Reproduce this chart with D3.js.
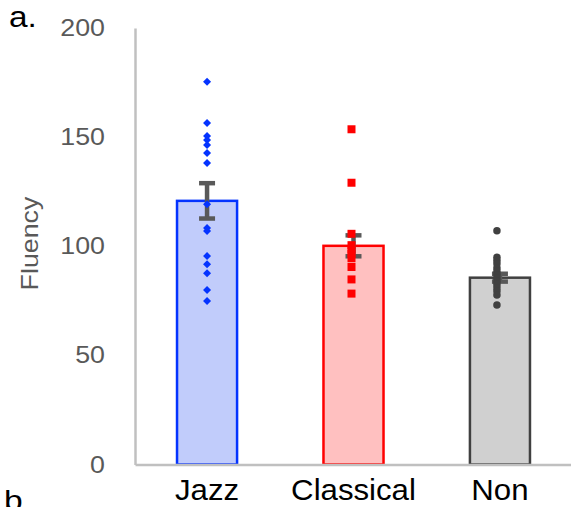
<!DOCTYPE html>
<html>
<head>
<meta charset="utf-8">
<script src="https://cdn.jsdelivr.net/npm/d3@7"></script>
<style>
  body { margin: 0; background: #fff; }
  svg { display: block; font-family: "Liberation Sans", Arial, Helvetica, sans-serif; }
</style>
</head>
<body>
<script>
// group means (bar heights) and standard errors
const categories = ["Jazz", "Classical", "Non"];
const means = [120.8, 100.2, 85.6];
const sems = [8.1, 4.8, 1.8];

// individual scores per group
const jazzScores = [175.4, 156.5, 150.5, 148.7, 146.4, 142.7, 138.1, 119.3, 108.4, 107.0, 95.5, 91.8, 87.6, 79.9, 74.9];
const classicalScores = [153.6, 129.1, 105.7, 100.5, 98.5, 96.5, 94.5, 90.5, 84.8, 78.3];
const nonScores = [107.1, 95, 93.5, 92, 90, 88.5, 87, 85.5, 84, 82.5, 81, 79.5, 77.7, 73.1];

const yTicks = [0, 50, 100, 150, 200];

const width = 571;
const height = 507;

const look = {
  Jazz: { fill: "#c1ccfb", stroke: "#0433ff", dot: "#0433ff", shape: "diamond", dx: 0 },
  Classical: { fill: "#ffc0c0", stroke: "#ff0000", dot: "#ff0000", shape: "square", dx: -2 },
  Non: { fill: "#d0d0d0", stroke: "#404040", dot: "#404040", shape: "circle", dx: -3 },
};

const scores = { Jazz: jazzScores, Classical: classicalScores, Non: nonScores };

const svg = d3.select("body").append("svg")
  .attr("width", width)
  .attr("height", height);

const y = d3.scaleLinear().domain([0, 200]).range([464.5, 28]);

const x = d3.scaleBand()
  .domain(categories)
  .range([135, 572])
  .paddingInner(0.59)
  .paddingOuter(0.287);

const bars = categories.map((c, i) => ({ cat: c, mean: means[i], se: sems[i] }));

// bars
svg.append("g").selectAll("rect")
  .data(bars)
  .enter()
  .append("rect")
  .attr("x", d => x(d.cat))
  .attr("width", x.bandwidth())
  .attr("y", d => y(d.mean))
  .attr("height", d => y(0) - y(d.mean))
  .attr("fill", d => look[d.cat].fill)
  .attr("stroke", d => look[d.cat].stroke)
  .attr("stroke-width", 2.5);

// axes
const gY = svg.append("g").attr("transform", "translate(135,0)")
  .call(d3.axisLeft(y).tickValues(yTicks).tickSize(0).tickSizeOuter(0));
gY.select(".domain").attr("stroke", "#c0c0c0").attr("stroke-width", 2.5);
gY.selectAll("text")
  .attr("x", null)
  .attr("transform", "translate(-30,0) scale(1.14,1)")
  .attr("fill", "#595959")
  .style("font-size", "23.5px")
  .style("font-family", "Liberation Sans, Arial, sans-serif");

const gX = svg.append("g").attr("transform", `translate(0,${y(0)})`)
  .call(d3.axisBottom(x).tickSize(0).tickSizeOuter(0));
gX.select(".domain").attr("stroke", "#c0c0c0").attr("stroke-width", 2.5);
gX.selectAll("text")
  .attr("y", null)
  .attr("dy", null)
  .attr("transform", "translate(0,35.5) scale(1.04,1)")
  .attr("fill", "#000")
  .style("font-size", "30px")
  .style("font-family", "Liberation Sans, Arial, sans-serif");

// error bars
const eb = svg.append("g").attr("stroke", "#595959").attr("stroke-width", 4.5);
bars.forEach(d => {
  const cx = x(d.cat) + x.bandwidth() / 2;
  eb.append("line").attr("x1", cx).attr("x2", cx).attr("y1", y(d.mean + d.se)).attr("y2", y(d.mean - d.se));
  [d.mean + d.se, d.mean - d.se].forEach(v => {
    eb.append("line").attr("x1", cx - 8).attr("x2", cx + 8).attr("y1", y(v)).attr("y2", y(v));
  });
});

// individual points
categories.forEach(c => {
  const st = look[c];
  const cx = x(c) + x.bandwidth() / 2 + st.dx;
  const g = svg.append("g").attr("fill", st.dot);
  const pts = g.selectAll("path").data(scores[c]).enter().append("path")
    .attr("transform", d => `translate(${cx},${y(d)})` + (st.shape === "diamond" ? " rotate(45)" : ""));
  if (st.shape === "diamond") pts.attr("d", d3.symbol(d3.symbolSquare, 32)());
  else if (st.shape === "square") pts.attr("d", d3.symbol(d3.symbolSquare, 64)());
  else pts.attr("d", d3.symbol(d3.symbolCircle, 44)());
});

// y label
svg.append("text")
  .attr("transform", "translate(38,243.5) rotate(-90) scale(1.14,1)")
  .attr("text-anchor", "middle")
  .attr("fill", "#595959")
  .style("font-size", "23.5px")
  .text("Fluency");

// panel letters
svg.append("text").attr("transform", "translate(9,27) scale(1.15,1)")
  .style("font-size", "29px").attr("fill", "#000").text("a.");
svg.append("text").attr("transform", "translate(4,510) scale(1.2,1)")
  .style("font-size", "28px").attr("fill", "#000").text("b");
</script>
</body>
</html>
